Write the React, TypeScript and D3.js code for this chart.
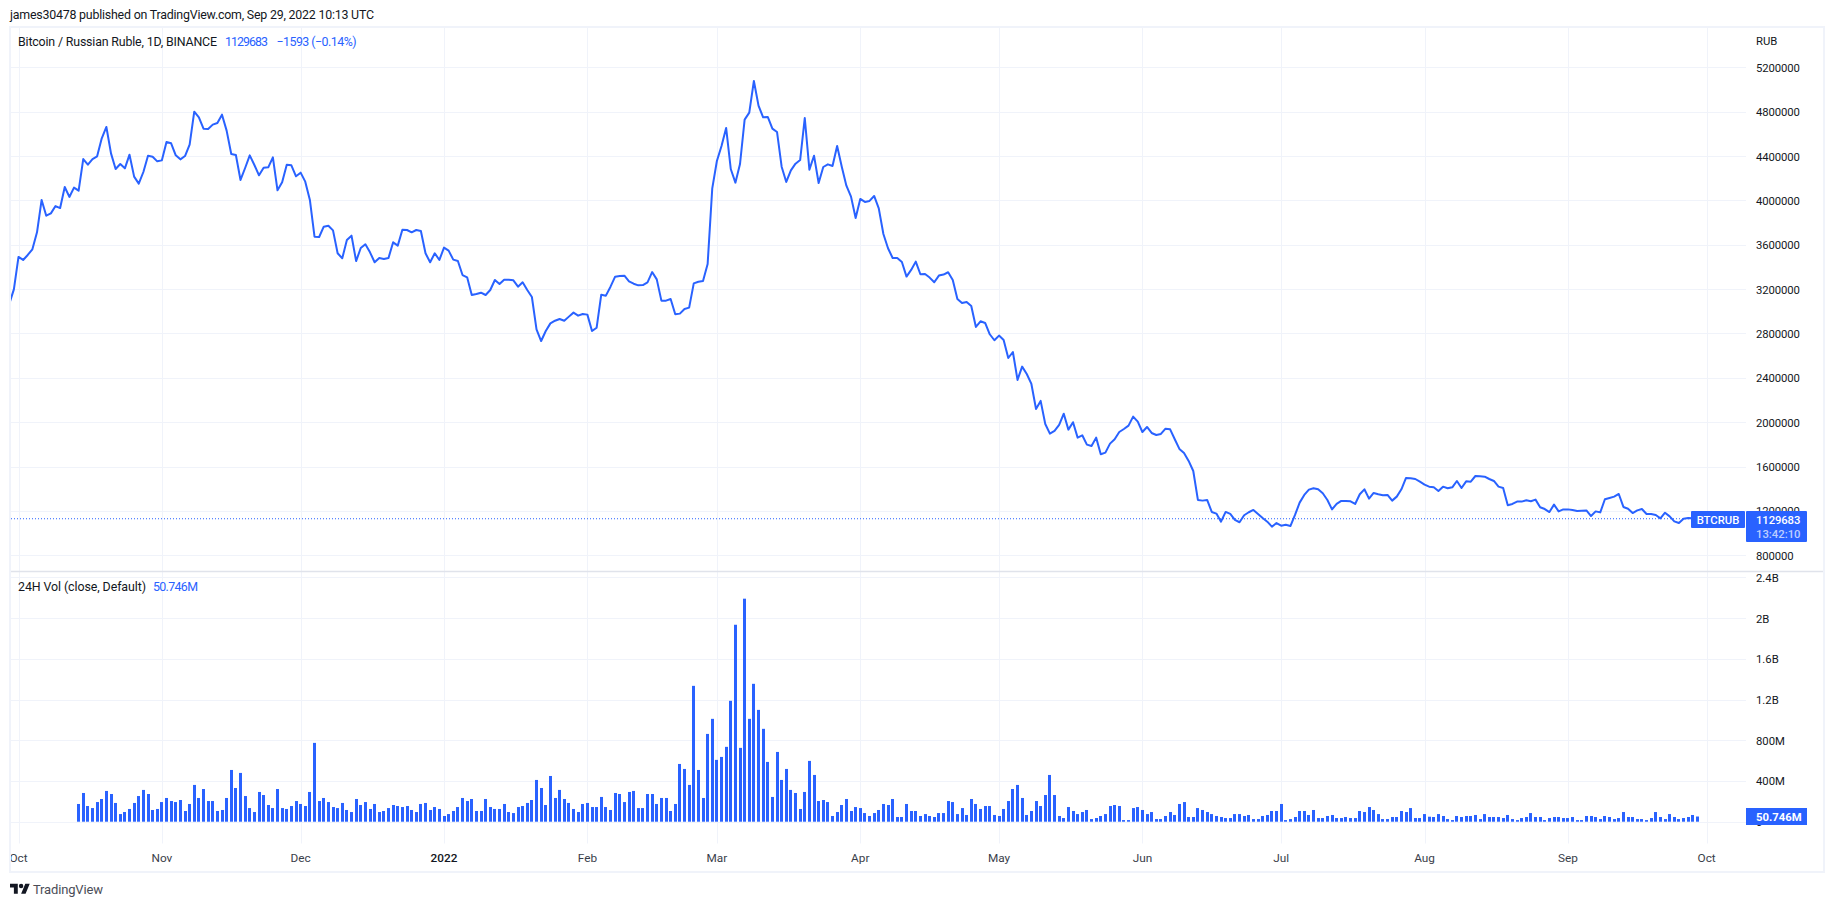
import React from 'react';
import * as d3 from 'd3';

// BTC/RUB daily closes in thousands of rubles, first bar is Sep 29 2021
const closePrice = [
  3066, 3198, 3490, 3463, 3508, 3559, 3712, 4004, 3862, 3883, 3949, 3931, 4121, 4031, 4115, 4088,
  4373, 4322, 4373, 4397, 4560, 4662, 4424, 4283, 4328, 4289, 4412, 4214, 4151, 4256, 4403, 4394,
  4352, 4361, 4527, 4515, 4406, 4370, 4400, 4503, 4800, 4749, 4647, 4644, 4683, 4698, 4773, 4629,
  4418, 4409, 4184, 4292, 4406, 4319, 4226, 4295, 4298, 4388, 4091, 4163, 4322, 4316, 4217, 4250,
  4169, 4004, 3673, 3670, 3763, 3772, 3730, 3523, 3478, 3643, 3682, 3453, 3571, 3604, 3532, 3442,
  3481, 3472, 3481, 3622, 3592, 3736, 3733, 3712, 3733, 3724, 3523, 3442, 3523, 3463, 3574, 3547,
  3466, 3454, 3327, 3306, 3147, 3156, 3168, 3147, 3192, 3282, 3246, 3285, 3285, 3279, 3222, 3261,
  3192, 3129, 2837, 2732, 2822, 2891, 2915, 2931, 2915, 2952, 2988, 2961, 2976, 2970, 2822, 2852,
  3150, 3141, 3222, 3312, 3318, 3321, 3270, 3249, 3234, 3237, 3261, 3354, 3288, 3096, 3096, 3111,
  2973, 2979, 3021, 3033, 3252, 3267, 3273, 3427, 4109, 4355, 4491, 4653, 4283, 4160, 4328, 4728,
  4791, 5077, 4854, 4749, 4752, 4647, 4617, 4304, 4166, 4271, 4331, 4364, 4743, 4277, 4403, 4157,
  4301, 4325, 4310, 4491, 4304, 4133, 4034, 3841, 4013, 3986, 3995, 4040, 3928, 3697, 3568, 3481,
  3481, 3445, 3313, 3373, 3448, 3334, 3337, 3304, 3262, 3322, 3331, 3352, 3283, 3111, 3075, 3084,
  3048, 2859, 2910, 2895, 2793, 2739, 2781, 2742, 2579, 2633, 2381, 2501, 2435, 2345, 2119, 2192,
  1984, 1897, 1921, 1975, 2077, 1933, 2000, 1861, 1882, 1798, 1786, 1861, 1711, 1726, 1807, 1846,
  1912, 1939, 1969, 2050, 2005, 1912, 1957, 1903, 1885, 1894, 1942, 1936, 1846, 1759, 1723, 1651,
  1560, 1299, 1293, 1299, 1191, 1176, 1103, 1191, 1173, 1119, 1098, 1161, 1188, 1209, 1173, 1137,
  1103, 1058, 1091, 1067, 1076, 1064, 1164, 1275, 1344, 1392, 1404, 1395, 1359, 1299, 1214, 1263,
  1290, 1290, 1287, 1263, 1350, 1395, 1311, 1362, 1350, 1341, 1344, 1293, 1329, 1395, 1497, 1494,
  1488, 1464, 1437, 1419, 1413, 1380, 1419, 1404, 1413, 1470, 1407, 1467, 1464, 1515, 1512, 1509,
  1488, 1470, 1419, 1407, 1251, 1263, 1284, 1284, 1296, 1287, 1302, 1233, 1217, 1190, 1257, 1196,
  1214, 1214, 1208, 1199, 1202, 1205, 1154, 1196, 1187, 1305, 1317, 1329, 1353, 1236, 1220, 1181,
  1205, 1217, 1172, 1172, 1163, 1133, 1184, 1151, 1106, 1091, 1130, 1136, 1133, 1130,
];

// 24h volume in millions, starts Oct 14 2021 (16th bar of the price series)
const volumeFirstBar = 15;
const volumeM = [
  174, 282, 154, 134, 193, 223, 302, 272, 184, 75, 95, 125, 184, 252, 312, 272, 115, 125, 193, 233,
  203, 193, 213, 105, 174, 361, 233, 321, 203, 203, 105, 115, 233, 508, 331, 479, 252, 134, 95, 292,
  262, 164, 134, 321, 134, 125, 154, 203, 174, 154, 292, 774, 203, 233, 193, 144, 134, 184, 115, 95,
  223, 164, 193, 125, 174, 95, 105, 134, 164, 154, 144, 154, 115, 95, 174, 184, 115, 144, 125, 56,
  75, 105, 144,
  233, 203, 223, 105, 105, 223, 144, 125, 125, 174, 95, 85, 144, 154, 184, 213, 410, 331, 164, 449,
  233, 312, 223, 184, 125, 95, 174, 184, 144, 144, 243, 144, 115, 282, 272, 193, 292, 302, 134, 134,
  272, 272, 174, 233, 233, 105, 174, 567, 518, 361, 1334, 508, 233, 862, 1010, 607, 636, 735, 1187, 1934,
  725, 2190, 1010, 1354, 1098, 912, 587, 243, 685, 410, 518, 312, 282, 125, 292, 597, 459, 203, 213, 193,
  56, 95, 164, 223, 105, 144, 134, 85, 56, 85, 115, 174, 164, 223, 46,
  46, 174, 105, 105, 56, 75, 56, 46, 85, 85, 203, 193, 75, 134, 66, 223, 174, 125, 154, 154,
  66, 56, 125, 203, 321, 361, 233, 66, 105, 203, 154, 262, 459, 262, 56, 36, 144, 105, 75, 95,
  115, 26, 36, 56, 75, 154, 164, 154, 16, 16, 134, 144, 115, 75, 95, 26, 26, 56, 95, 66,
  174, 193, 46, 46, 134, 115, 95, 75, 56, 46, 36, 36, 75, 75, 56, 66, 26, 26, 56, 66,
  105, 105, 174, 16, 26, 46, 105, 105, 66, 115, 36, 36, 56, 66, 36, 36, 46, 36, 36, 105,
  95, 144, 115, 75, 26, 26, 46, 46, 105, 95, 134, 36, 36, 75, 49, 46, 75, 56, 26, 16,
  56, 46, 56, 56, 66, 26, 75, 46, 46, 46, 36, 66, 26, 16, 36, 46, 85, 46, 46, 16,
  36, 46, 46, 36, 36, 46, 16, 16, 56, 56, 46, 26, 56, 46, 26, 36, 95, 46, 46, 26,
  26, 16, 36, 95, 46, 26, 75, 46, 26, 36, 46, 66, 51,
];

const priceTicks = [800, 1200, 1600, 2000, 2400, 2800, 3200, 3600, 4000, 4400, 4800, 5200];
const volumeTicks = [400, 800, 1200, 1600, 2000, 2400];
const volumeTickLabels = ['400M', '800M', '1.2B', '1.6B', '2B', '2.4B'];
const monthLabels = ['Oct', 'Nov', 'Dec', '2022', 'Feb', 'Mar', 'Apr', 'May', 'Jun', 'Jul', 'Aug', 'Sep', 'Oct'];
const lastClose = 1129.683;

const FONT = 'Roboto, sans-serif';
const BLUE = '#2962ff';
const GRID = '#f0f3fa';
const TEXT = '#131722';
const TICK = 11.3; // digits of the scales are narrower than the legend text
const LEGEND = 12.4;

const firstDay = new Date(Date.UTC(2021, 8, 29));
const dayOf = (i: number) => d3.utcDay.offset(firstDay, i);
const monthStarts = d3.utcMonth.range(new Date(Date.UTC(2021, 9, 1)), new Date(Date.UTC(2022, 9, 2)));

const x = d3.scaleUtc().domain([firstDay, dayOf(365)]).range([9.25, 1697.4]);
const yPrice = d3.scaleLinear().domain([800, 5200]).range([555.3, 67.3]);
const yVolume = d3.scaleLinear().domain([0, 2400]).range([821.7, 577.3]);

const priceLine = d3.line<number>()
  .x((_, i) => x(dayOf(i)))
  .y(d => yPrice(d));

export default function App() {
  const crisp = (v: number) => Math.round(v) + 0.5;
  return (
    <svg width={1834} height={907} style={{ position: 'absolute', left: 0, top: 0, background: '#fff' }} fontFamily={FONT}>
      <defs>
        <clipPath id="pane"><rect x={11} y={28} width={1735} height={816} /></clipPath>
        <clipPath id="axis"><rect x={11} y={844} width={1735} height={26} /></clipPath>
      </defs>

      <text x={10} y={19} fontSize={LEGEND} fill={TEXT} textLength={364}>james30478 published on TradingView.com, Sep 29, 2022 10:13 UTC</text>

      {/* grid */}
      {monthStarts.map(d => (
        <line key={+d} x1={crisp(x(d))} x2={crisp(x(d))} y1={28} y2={843.5} stroke={GRID} />
      ))}
      {priceTicks.map(t => (
        <line key={t} x1={11} x2={1746} y1={crisp(yPrice(t))} y2={crisp(yPrice(t))} stroke={GRID} />
      ))}
      {volumeTicks.concat(0).map(t => (
        <line key={t} x1={11} x2={1746} y1={crisp(yVolume(t))} y2={crisp(yVolume(t))} stroke={GRID} />
      ))}

      {/* frame and pane separator */}
      <rect x={10} y={27} width={1814} height={845} fill="none" stroke={GRID} strokeWidth={2} />
      <line x1={11} x2={1823} y1={571.5} y2={571.5} stroke="#e0e3eb" strokeWidth={1.5} />

      {/* price */}
      <line x1={11} x2={1692} y1={yPrice(lastClose)} y2={yPrice(lastClose)} stroke={BLUE} strokeDasharray="1 2" />
      <path d={priceLine(closePrice) ?? ''} fill="none" stroke={BLUE} strokeWidth={2} strokeLinejoin="round" clipPath="url(#pane)" />

      {/* volume */}
      {volumeM.map((v, i) => {
        const cx = x(dayOf(i + volumeFirstBar));
        return <rect key={i} x={Math.round(cx - 1.5)} y={yVolume(v)} width={3} height={yVolume(0) - yVolume(v)} fill={BLUE} />;
      })}

      {/* legends */}
      <text x={18} y={46} fontSize={LEGEND} fill={TEXT} textLength={199}>Bitcoin / Russian Ruble, 1D, BINANCE</text>
      <text x={225} y={46} fontSize={LEGEND} fill={BLUE} textLength={43}>1129683</text>
      <text x={276.5} y={46} fontSize={LEGEND} fill={BLUE} textLength={80}>−1593 (−0.14%)</text>
      <text x={18} y={591} fontSize={LEGEND} fill={TEXT} textLength={128}>24H Vol (close, Default)</text>
      <text x={153} y={591} fontSize={LEGEND} fill={BLUE} textLength={45}>50.746M</text>

      {/* price scale */}
      <text x={1756} y={45} fontSize={TICK} fill={TEXT}>RUB</text>
      {priceTicks.map(t => (
        <text key={t} x={1756} y={yPrice(t) + 4.5} fontSize={TICK} letterSpacing={-0.1} fill={TEXT}>{d3.format('d')(t * 1000)}</text>
      ))}

      {/* volume scale */}
      {volumeTicks.map((t, i) => (
        <text key={t} x={1756} y={yVolume(t) + 4.5} fontSize={TICK} fill={TEXT}>{volumeTickLabels[i]}</text>
      ))}
      <text x={1756} y={yVolume(0) + 4.5} fontSize={TICK} fill={TEXT}>0</text>

      {/* last value labels */}
      <rect x={1691} y={511} width={54} height={17} rx={1} fill={BLUE} />
      <text x={1718} y={523.5} fontSize={TICK} fontWeight={500} textAnchor="middle" fill="#fff">BTCRUB</text>
      <rect x={1746} y={511} width={61} height={31} rx={1} fill={BLUE} />
      <text x={1756} y={523.5} fontSize={TICK} fontWeight={500} letterSpacing={-0.1} fill="#fff">1129683</text>
      <text x={1756} y={538} fontSize={TICK} fontWeight={500} fill="#fff" fillOpacity={0.7}>13:42:10</text>
      <rect x={1746} y={808} width={61} height={17} fill={BLUE} />
      <text x={1756} y={821} fontSize={TICK} fontWeight={700} fill="#fff">50.746M</text>

      {/* time scale */}
      <g clipPath="url(#axis)">
        {monthStarts.map((d, i) => (
          <text key={+d} x={x(d)} y={862} fontSize={11.8} textAnchor="middle"
            fontWeight={monthLabels[i] === '2022' ? 500 : 400} fill={monthLabels[i] === '2022' ? TEXT : '#3a3e4a'}>{monthLabels[i]}</text>
        ))}
      </g>

      {/* footer logo */}
      <g transform="translate(10,881.5) scale(0.556)" fill="#131722">
        <path d="M14 22H7V11H0V4h14v18zM28 22h-8l7.5-18h8L28 22z" />
        <circle cx={20} cy={8} r={4} />
      </g>
      <text x={33} y={894} fontSize={13} fill="#4a4d57" textLength={70}>TradingView</text>
    </svg>
  );
}
